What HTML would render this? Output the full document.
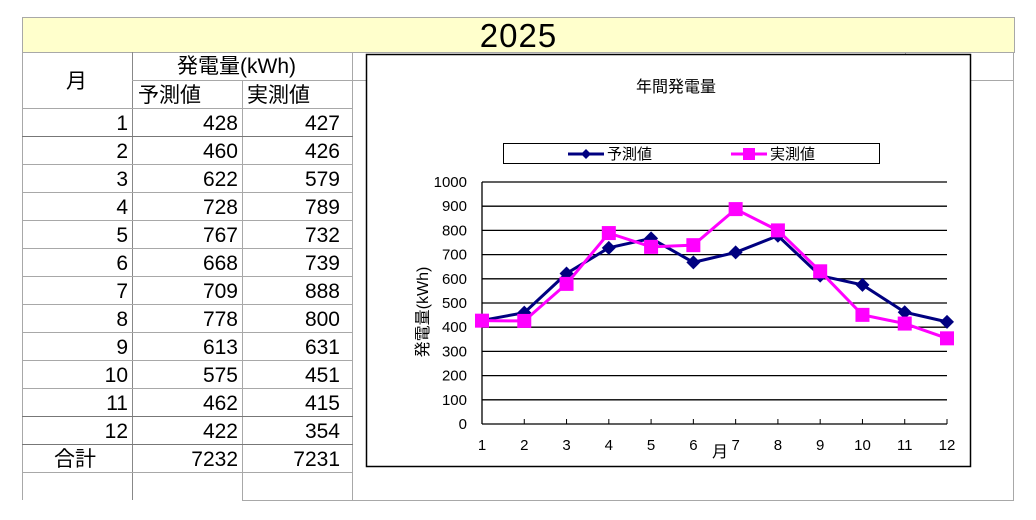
<!DOCTYPE html>
<html><head><meta charset="utf-8">
<style>
body{margin:0;width:1036px;height:520px;background:#fff;position:relative;overflow:hidden;font-family:"Liberation Sans","Noto Sans CJK JP",sans-serif;}
.a{position:absolute;}
.hl{position:absolute;height:1px;background:#a8a8a8;}
.vl{position:absolute;width:1px;background:#a8a8a8;}
.c{position:absolute;font-size:21px;color:#000;line-height:28px;height:28px;padding-top:2px;}
.r{text-align:right;width:104px;}
</style></head><body>
<div class="a" style="left:22px;top:17px;width:991px;height:34px;background:#ffffcc;border:1px solid #a8a8a8;text-align:center;font-size:33px;line-height:36px;letter-spacing:1px;">2025</div>
<div id="tbl"></div>
<svg class="a" style="left:0;top:0" width="1036" height="520" id="svg"></svg>
<script>
const months=[1,2,3,4,5,6,7,8,9,10,11,12];
const forecast=[428,460,622,728,767,668,709,778,613,575,462,422];
const actual=[427,426,579,789,732,739,888,800,631,451,415,354];
const yTicks=[0,100,200,300,400,500,600,700,800,900,1000];
const totals=["7232","7231"];

const tbl=document.getElementById('tbl');
function add(html){tbl.insertAdjacentHTML('beforeend',html);}
add('<div class="vl" style="left:22px;top:52px;height:448px"></div>');
add('<div class="vl" style="left:132px;top:52px;height:448px;background:#888"></div>');
add('<div class="vl" style="left:242px;top:80px;height:420px"></div>');
add('<div class="vl" style="left:352px;top:52px;height:448px"></div>');
add('<div class="vl" style="left:1013px;top:52px;height:448px"></div>');
add('<div class="vl" style="left:905px;top:52px;height:3px"></div>');
add('<div class="hl" style="left:132px;top:80px;width:882px"></div>');
add('<div class="hl" style="left:242px;top:500px;width:772px"></div>');
for(let i=0;i<=13;i++){const y=108+i*28;add('<div class="hl" style="left:22px;top:'+y+'px;width:331px;'+(i==1||i==11||i==12?'background:#777':'')+'"></div>');}
add('<div class="c" style="left:66px;top:66px">月</div>');
add('<div class="c" style="left:177px;top:51px">発電量(kWh)</div>');
add('<div class="c" style="left:138px;top:80px">予測値</div>');
add('<div class="c" style="left:247px;top:80px">実測値</div>');
months.forEach((m,i)=>{const y=108+i*28;
add('<div class="c r" style="left:24px;top:'+y+'px">'+m+'</div>');
add('<div class="c r" style="left:134px;top:'+y+'px">'+forecast[i]+'</div>');
add('<div class="c r" style="left:236px;top:'+y+'px">'+actual[i]+'</div>');});
add('<div class="c" style="left:54px;top:444px">合計</div>');
add('<div class="c r" style="left:134px;top:444px">'+totals[0]+'</div>');
add('<div class="c r" style="left:236px;top:444px">'+totals[1]+'</div>');

const svg=document.getElementById('svg');const NS='http://www.w3.org/2000/svg';
function el(t,a,txt){const e=document.createElementNS(NS,t);for(const k in a)e.setAttribute(k,a[k]);if(txt!=null)e.textContent=txt;svg.appendChild(e);return e;}
const X0=482,X1=947,Y0=424,Y1=182;
const xs=m=>X0+(m-1)*(X1-X0)/11;
const ys=v=>Y0-v*(Y0-Y1)/1000;
let e=el('rect',{x:366.5,y:54.5,width:604,height:412,fill:'#fff',stroke:'#000','stroke-width':1.5});

e=el('text',{x:676,y:92,'font-size':16,'text-anchor':'middle'},'年間発電量');

e=el('rect',{x:503.5,y:143.5,width:376,height:20,fill:'#fff',stroke:'#000'});

el('line',{x1:568,y1:154,x2:604,y2:154,stroke:'#000080','stroke-width':3});
el('path',{d:'M586 149 L591 154 L586 159 L581 154Z',fill:'#000080'});
e=el('text',{x:607,y:159,'font-size':15},'予測値');

el('line',{x1:731,y1:154,x2:767,y2:154,stroke:'#ff00ff','stroke-width':3});
el('rect',{x:743,y:148,width:12,height:12,fill:'#ff00ff'});
e=el('text',{x:770,y:159,'font-size':15},'実測値');

yTicks.forEach(v=>{const y=ys(v);
 if(v>0){e=el('line',{x1:X0,y1:y,x2:X1,y2:y,stroke:'#000','stroke-width':1.3});}
 e=el('text',{x:467,y:y+5,'font-size':15,'text-anchor':'end'},v);
 });
el('line',{x1:X0,y1:Y1,x2:X0,y2:Y0,stroke:'#000','stroke-width':1.3});
el('line',{x1:X0,y1:Y0,x2:X1,y2:Y0,stroke:'#000','stroke-width':1.3});
months.forEach(m=>{const x=xs(m);
 el('line',{x1:x,y1:Y0-5,x2:x,y2:Y0,stroke:'#000'});
 e=el('text',{x:x,y:Y0+26,'font-size':15,'text-anchor':'middle'},m);
 });
e=el('text',{x:720,y:457,'font-size':16,'text-anchor':'middle'},'月');

e=el('text',{x:0,y:0,'font-size':16,'text-anchor':'middle',transform:'translate(428,312) rotate(-90)'},'発電量(kWh)');

function pts(arr){return arr.map((v,i)=>xs(months[i])+','+ys(v)).join(' ');}
e=el('polyline',{points:pts(forecast),fill:'none',stroke:'#000080','stroke-width':3});

e=el('polyline',{points:pts(actual),fill:'none',stroke:'#ff00ff','stroke-width':3});

forecast.forEach((v,i)=>{const x=xs(months[i]),y=ys(v);
 e=el('path',{d:`M${x} ${y-7} L${x+7} ${y} L${x} ${y+7} L${x-7} ${y}Z`,fill:'#000080'});
 });
actual.forEach((v,i)=>{const x=xs(months[i]),y=ys(v);
 e=el('rect',{x:x-7,y:y-7,width:14,height:14,fill:'#ff00ff'});
 });
</script>
</body></html>
